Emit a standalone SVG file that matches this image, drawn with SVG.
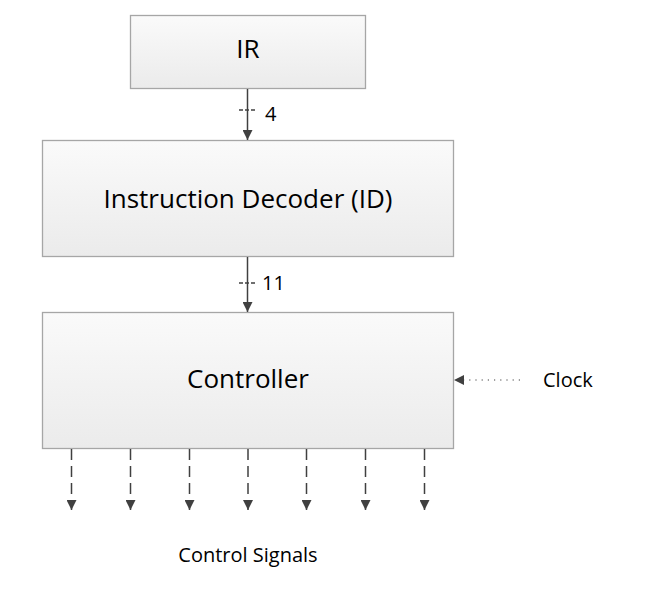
<svg xmlns="http://www.w3.org/2000/svg" width="654" height="592" viewBox="0 0 654 592">
<defs>
<linearGradient id="boxfill" x1="0" y1="0" x2="0" y2="1">
<stop offset="0" stop-color="#fafafa"/>
<stop offset="1" stop-color="#ebebeb"/>
</linearGradient>
<marker id="arr" viewBox="0 0 10 10" refX="10" refY="5" markerWidth="10" markerHeight="10" markerUnits="userSpaceOnUse" orient="auto">
<path d="M0,0 L10,5 L0,10 z" fill="#404040"/>
</marker>
</defs>
<style>
.box{fill:url(#boxfill);stroke:#a6a6a6;stroke-width:1.3}
.big{font-family:"Open Sans","Liberation Sans",sans-serif;font-size:26px;fill:#000;text-anchor:middle}
.small{font-family:"Open Sans","Liberation Sans",sans-serif;font-size:20px;fill:#000}
.num{font-family:"Open Sans","Liberation Sans",sans-serif;font-size:20px;fill:#000}
.wire{stroke:#404040;stroke-width:1.5;fill:none}
.tick{stroke:#404040;stroke-width:1.5;stroke-dasharray:4 2;fill:none}
.sig{stroke:#404040;stroke-width:1.5;stroke-dasharray:11 6;fill:none}
.clk{stroke:#404040;stroke-width:1.2;stroke-dasharray:1.2 5;fill:none}
</style>
<rect width="654" height="592" fill="#ffffff"/>
<g id="ir">
<rect class="box" x="130.5" y="15.5" width="235" height="73"/>
<text class="big" x="248" y="58">IR</text>
</g>
<g id="id">
<rect class="box" x="42.5" y="140.5" width="411" height="116"/>
<text class="big" x="248" y="208">Instruction Decoder (ID)</text>
</g>
<g id="controller">
<rect class="box" x="42.5" y="312.5" width="411" height="136"/>
<text class="big" x="248" y="388">Controller</text>
</g>
<g id="clock">
<text class="small" x="543" y="387">Clock</text>
</g>
<g id="control-signals">
<text class="small" x="248" y="562" text-anchor="middle">Control Signals</text>
</g>
<g id="connectors">
<line class="wire" x1="247.5" y1="89" x2="247.5" y2="140" marker-end="url(#arr)"/>
<line class="tick" x1="239" y1="110" x2="256" y2="110"/>
<text class="num" x="265" y="121">4</text>
<line class="wire" x1="247.5" y1="257" x2="247.5" y2="312" marker-end="url(#arr)"/>
<line class="tick" x1="239" y1="283" x2="256" y2="283"/>
<text class="num" x="262" y="290">11</text>
<line class="clk" x1="520" y1="380" x2="454" y2="380" marker-end="url(#arr)"/>
<line class="sig" x1="71.5" y1="449" x2="71.5" y2="510" marker-end="url(#arr)"/>
<line class="sig" x1="130.5" y1="449" x2="130.5" y2="510" marker-end="url(#arr)"/>
<line class="sig" x1="189.5" y1="449" x2="189.5" y2="510" marker-end="url(#arr)"/>
<line class="sig" x1="248" y1="449" x2="248" y2="510" marker-end="url(#arr)"/>
<line class="sig" x1="306.5" y1="449" x2="306.5" y2="510" marker-end="url(#arr)"/>
<line class="sig" x1="365.5" y1="449" x2="365.5" y2="510" marker-end="url(#arr)"/>
<line class="sig" x1="424.5" y1="449" x2="424.5" y2="510" marker-end="url(#arr)"/>
</g>
</svg>
